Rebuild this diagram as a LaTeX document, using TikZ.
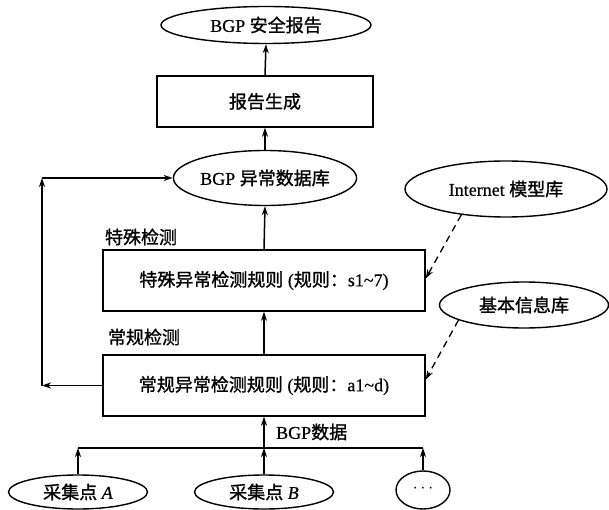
\documentclass[tikz,border=0pt]{standalone}
\usepackage{fontspec}
\setmainfont{Liberation Serif}[FakeBold=0.6]
\newfontfamily\cjk{Noto Sans CJK SC}[FakeBold=1.2]
\newcommand\zh[1]{{\cjk #1}}
\usetikzlibrary{shapes.geometric,arrows.meta}
\begin{document}
\begin{tikzpicture}[x=1pt,y=-1pt,
  every node/.style={font=\fontsize{18}{21}\selectfont, inner sep=0pt},
  ell/.style={draw, ellipse, line width=1.4pt},
  boxn/.style={draw, rectangle, line width=1.4pt},
  arr/.style={line width=1.5pt, -{Stealth[length=9pt,width=6pt]}},
  dsh/.style={line width=1.3pt, dash pattern=on 7pt off 5pt, -{Stealth[length=9pt,width=6pt]}},
  lbl/.style={}]
\useasboundingbox (0,0) rectangle (609,510);
\node[ell, minimum width=210pt, minimum height=37pt] (E1) at (266,25) {BGP \zh{安全报告}};
\node[boxn, minimum width=216pt, minimum height=51pt] (B1) at (265,101.5) {\zh{报告生成}};
\node[ell, minimum width=175pt, minimum height=55pt] (E2) at (265,178) {BGP \zh{异常数据库}};
\node[boxn, minimum width=322pt, minimum height=61pt] (B2) at (264,280.5) {\zh{特殊异常检测规则} (\zh{规则：}s1\textasciitilde7)};
\node[boxn, minimum width=322pt, minimum height=61pt] (B3) at (264,385.5) {\zh{常规异常检测规则} (\zh{规则：}a1\textasciitilde d)};
\node[ell, minimum width=202pt, minimum height=56pt] (E3) at (506,189) {Internet \zh{模型库}};
\node[ell, minimum width=169pt, minimum height=46pt] (E4) at (524,305) {\zh{基本信息库}};
\node[lbl] (L1) at (141,237) {\zh{特殊检测}};
\node[lbl] (L2) at (144,337) {\zh{常规检测}};
\node[lbl, anchor=west] (L3) at (276,432) {BGP\zh{数据}};
\node[ell, minimum width=139pt, minimum height=34pt] (E5) at (78,492) {\zh{采集点} \textit{A}};
\node[ell, minimum width=139pt, minimum height=34pt] (E6) at (264,492) {\zh{采集点} \textit{B}};
\node[ell, minimum width=54pt, minimum height=38pt] (E7) at (423,490) {\raisebox{3pt}{$\cdots$}};
\coordinate (busL) at (78,448);
\coordinate (busC) at (264,448);
\coordinate (busR) at (423,448);
\coordinate (fbB) at (42,385.5);
\coordinate (fbT) at (42,178);
\draw[arr] (B1.north) -- (E1.south);
\draw[arr] (E2.north) -- (B1.south);
\draw[arr] (B2.north) -- (E2.south);
\draw[arr] (B3.north) -- (B2.south);
\draw[line width=1.4pt] (busL) -- (busR);
\draw[arr] (E5.north) -- (busL);
\draw[arr] (E6.north) -- (busC);
\draw[arr] (busC) -- (B3.south);
\draw[arr] (E7.north) -- (busR);
\draw[arr] (B3.west) -- (fbB);
\draw[arr] (fbB) -- (fbT);
\draw[arr] (fbT) -- (E2.west);
\draw[dsh] (E3.210) -- ([yshift=2pt]B2.east);
\draw[dsh] (E4.193) -- ([yshift=6pt]B3.east);
\end{tikzpicture}
\end{document}
